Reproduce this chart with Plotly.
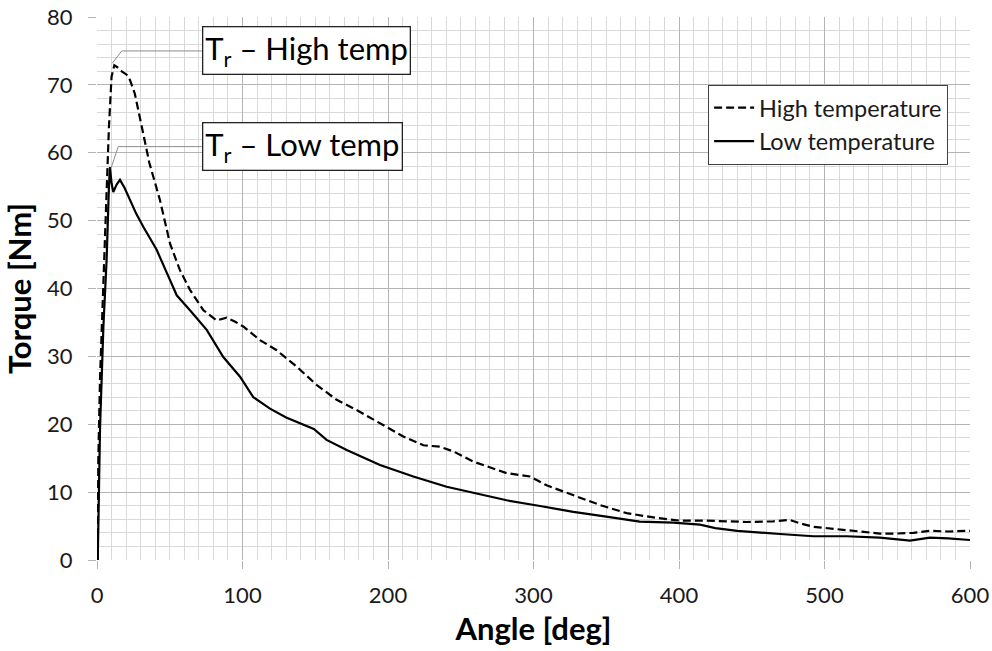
import plotly.graph_objects as go

# ---- data ----
low_angle = [0.5, 2.1, 4.4, 6.6, 8.2, 8.9, 10.0, 11.2, 13.5, 15.8, 19, 22.7, 27, 31.8, 36, 41, 48,
             54.8, 63.9, 75.4, 86.8, 98.3, 107.4, 118.9, 130, 141.8, 149, 157.8, 171.6, 194.5,
             217.4, 240.3, 258.6, 281.5, 304.5, 327.4, 350, 373, 396, 414.4, 425, 440, 469.4,
             492.3, 515.2, 538, 558.8, 572.5, 585, 600]
low_torque = [0, 19.6, 34.4, 44.2, 55.0, 57.9, 55.5, 54.2, 55.3, 56.0, 54.8, 53.0, 51.0, 49.1, 47.6,
              45.7, 42.3, 39.0, 36.8, 33.9, 29.9, 27.0, 24.0, 22.3, 21.0, 19.9, 19.3, 17.7, 16.2,
              14.0, 12.3, 10.8, 9.9, 8.8, 7.95, 7.1, 6.4, 5.65, 5.5, 5.2, 4.7, 4.3, 3.83, 3.5, 3.5,
              3.3, 2.85, 3.3, 3.2, 2.95]

high_angle = [0.5, 0.9, 2.1, 4.4, 6.6, 8.2, 10.0, 11.9, 14, 17, 20.4, 22.7, 26, 29.5, 33, 36, 43.3,
              50.2, 57.0, 63.9, 73.1, 82.2, 89.1, 95, 100.5, 112.0, 123.5, 137.2, 150.9, 164.7,
              178.4, 194.5, 210.5, 224.3, 235.7, 244.9, 258.6, 281.5, 297.6, 309, 327.4, 345.7,
              364, 384.6, 400.7, 418.9, 446.5, 464.8, 476.3, 483.2, 492.3, 515.2, 538, 549.5,
              561, 572.5, 585, 600]
high_torque = [0, 14.7, 27.0, 41.7, 54.0, 63.8, 71.2, 72.9, 72.6, 72.0, 71.5, 70.7, 68.7, 65.0,
               61.5, 58.5, 53.0, 46.6, 42.7, 39.8, 36.8, 35.3, 35.7, 35.1, 34.4, 32.4, 30.9, 28.5,
               25.8, 23.6, 22.1, 20.1, 18.2, 16.9, 16.7, 16.0, 14.5, 12.8, 12.3, 11.0, 9.6, 8.1,
               6.9, 6.2, 5.8, 5.8, 5.6, 5.7, 5.9, 5.4, 4.9, 4.4, 3.9, 3.9, 4.0, 4.3, 4.2, 4.3]

x_ticks = [0, 100, 200, 300, 400, 500, 600]
y_ticks = [0, 10, 20, 30, 40, 50, 60, 70, 80]

FONT = "Lato, 'Open Sans', sans-serif"
MAJOR = "#b4b4b4"
MINOR = "#d9d9d9"

fig = go.Figure()
fig.add_trace(go.Scatter(x=high_angle, y=high_torque, mode="lines", name="High temperature",
                         legendgroup="h",
                         line=dict(color="black", width=2.2, dash="8px,4px")))
fig.add_trace(go.Scatter(x=low_angle, y=low_torque, mode="lines", name="Low temperature",
                         legendgroup="l",
                         line=dict(color="black", width=2.2)))

# peak locations from the data for leader lines
def peak(xs, ys):
    i = max(range(len(ys)), key=lambda k: ys[k])
    return xs[i], ys[i]

hx, hy = peak(high_angle, high_torque)
lx, ly = peak(low_angle, low_torque)

box_x = 72.0
hbox_y = 75.0
lbox_y = 60.9

fig.add_shape(type="path", xref="x", yref="y",
              path=f"M {box_x},{hbox_y} L 17,{hbox_y} L {hx - 1.4},{hy + 0.3}",
              line=dict(color="#8c8c8c", width=1))
fig.add_shape(type="path", xref="x", yref="y",
              path=f"M {box_x},{lbox_y} L 14.6,{lbox_y} L {lx + 0.7},{ly - 0.2}",
              line=dict(color="#8c8c8c", width=1))

for txt, yy in [("T<sub>r</sub> – High temp", hbox_y), ("T<sub>r</sub> – Low temp", lbox_y)]:
    fig.add_annotation(x=box_x, y=yy, xref="x", yref="y", text=txt, showarrow=False,
                       xanchor="left", yanchor="middle",
                       font=dict(family=FONT, size=31, color="black"),
                       bgcolor="white", bordercolor="#222", borderwidth=1.3, borderpad=2)

axis_common = dict(showgrid=True, gridcolor=MAJOR, gridwidth=1, zeroline=False, showline=False,
                   ticks="outside", ticklen=8, tickcolor=MAJOR, tickwidth=1, automargin=False,
                   tickfont=dict(family=FONT, size=22, color="#1a1a1a"))

fig.update_xaxes(range=[0, 600], tickvals=x_ticks,
                 minor=dict(dtick=10, showgrid=True, gridcolor=MINOR, gridwidth=1),
                 title=dict(text="<b>Angle [deg]</b>", font=dict(family=FONT, size=31, color="black"),
                            standoff=10),
                 ticklabelstandoff=8, **axis_common)
fig.update_yaxes(range=[0, 80], tickvals=y_ticks,
                 minor=dict(dtick=2, showgrid=True, gridcolor=MINOR, gridwidth=1),
                 title=dict(text="<b>Torque [Nm]</b>", font=dict(family=FONT, size=31, color="black"),
                            standoff=13),
                 ticklabelstandoff=11, **axis_common)

fig.update_layout(
    width=992, height=651,
    margin=dict(l=97, r=22, t=17, b=91, autoexpand=False),
    paper_bgcolor="white", plot_bgcolor="white",
    font=dict(family=FONT, color="black"),
    showlegend=True,
    legend=dict(x=0.70, y=0.875, xanchor="left", yanchor="top",
                bgcolor="white", bordercolor="#404040", borderwidth=1,
                font=dict(family=FONT, size=23.5, color="#1a1a1a"),
                itemwidth=40, tracegroupgap=0, traceorder="grouped"),
)

fig.write_html("out.html")
